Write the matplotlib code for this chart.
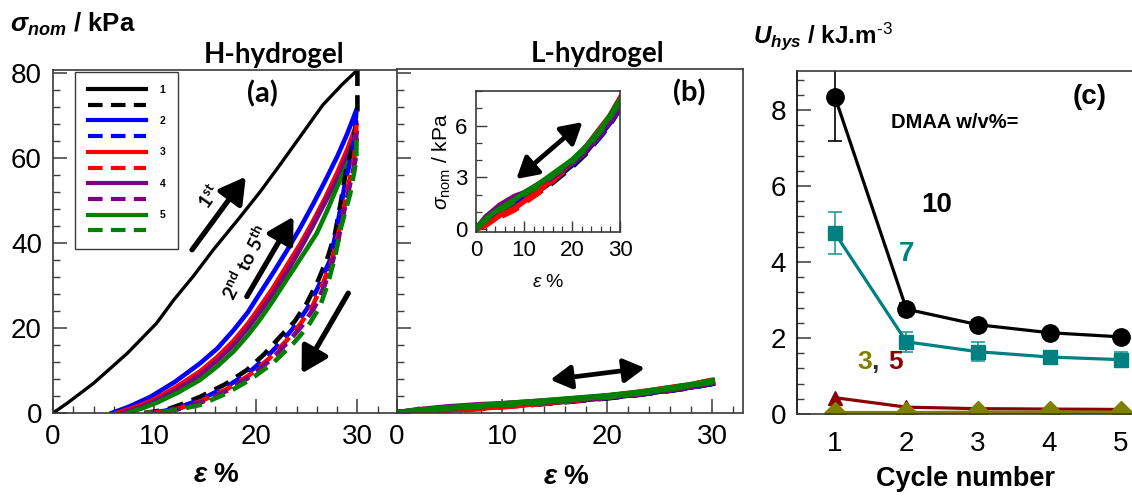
import numpy as np
import matplotlib
matplotlib.use("Agg")
import matplotlib.pyplot as plt
from matplotlib.lines import Line2D
from matplotlib.ticker import MultipleLocator

plt.rcParams['font.family'] = 'Liberation Sans'
plt.rcParams['mathtext.fontset'] = 'custom'
plt.rcParams['mathtext.rm'] = 'Liberation Sans'
plt.rcParams['mathtext.it'] = 'Liberation Sans:italic'
plt.rcParams['mathtext.bf'] = 'Liberation Sans:bold:italic'
plt.rcParams['mathtext.sf'] = 'Lato:bold'

# ---------------- data ----------------
cycle_colors = ['black', 'blue', 'red', 'purple', 'green']

# (a) H-hydrogel, loading (solid) and unloading (dashed) for cycles 1-5
h1_up_x = [0, 1.4, 4.0, 7.3, 10.2, 11.9, 13.8, 15.8, 18.4, 20.4, 22.4, 24.5, 26.6, 28.5, 30.0]
h1_up_y = [0, 2.3, 7.0, 14.0, 21.1, 26.6, 32.1, 38.4, 46.0, 52.0, 58.5, 65.5, 72.5, 77.3, 80.7]
h1_dn_x = [30.0, 30.0, 29.6, 28.9, 28.4, 27.8, 27.1, 26.1, 25.0, 23.8, 22.4, 20.8, 19.1, 17.0, 14.5, 12.5, 11.2, 9.0]
h1_dn_y = [80.7, 71.0, 63.5, 57.2, 50.1, 42.3, 36.8, 31.0, 25.8, 21.5, 18.0, 13.8, 10.1, 6.8, 3.8, 1.9, 0.8, 0.0]

h2_up_x = [5.8, 7.5, 9.6, 12.0, 14.5, 16.2, 17.8, 19.2, 20.4, 21.7, 23.0, 24.3, 25.6, 26.8, 28.0, 29.0, 29.9]
h2_up_y = [0, 1.5, 3.8, 7.3, 11.7, 15.2, 19.5, 23.7, 28.2, 33.0, 38.0, 43.3, 49.0, 54.5, 60.3, 65.7, 71.3]
h2_dn_x = [29.9, 29.6, 28.9, 28.4, 27.8, 27.3, 26.3, 25.3, 24.1, 22.8, 21.1, 19.3, 17.1, 14.6, 12.6, 11.0, 9.3]
h2_dn_y = [71.3, 62.0, 55.5, 49.0, 41.5, 36.0, 30.5, 25.5, 21.2, 17.5, 13.3, 9.5, 6.2, 3.2, 1.5, 0.5, 0]

h3_up_x = [6.3, 8.0, 9.8, 12.0, 14.5, 16.2, 17.8, 19.2, 20.4, 21.7, 23.0, 24.3, 25.6, 26.8, 28.0, 29.0, 29.9]
h3_up_y = [0, 1.3, 3.0, 5.9, 9.8, 13.2, 17.0, 21.0, 25.0, 29.5, 34.5, 39.5, 45.0, 50.5, 56.5, 62.0, 67.8]
h3_dn_x = [29.9, 29.7, 29.1, 28.6, 28.0, 27.5, 26.6, 25.6, 24.4, 23.0, 21.3, 19.4, 17.2, 14.6, 12.6, 11.0, 9.3]
h3_dn_y = [67.8, 60.0, 53.5, 47.0, 41.0, 36.0, 30.5, 25.3, 21.0, 17.0, 12.8, 9.0, 5.7, 2.8, 1.2, 0.4, 0]

h4_up_x = [6.8, 8.4, 10.0, 12.2, 14.5, 16.2, 17.8, 19.2, 20.4, 21.7, 23.0, 24.3, 25.6, 26.8, 28.0, 29.0, 29.9]
h4_up_y = [0, 1.2, 2.8, 5.4, 9.0, 12.4, 16.0, 20.0, 23.8, 28.2, 33.0, 38.3, 44.0, 49.5, 55.0, 60.5, 66.0]
h4_dn_x = [29.9, 29.8, 29.2, 28.6, 28.1, 27.6, 26.8, 25.8, 24.6, 23.2, 21.4, 19.4, 17.2, 14.6, 12.6, 11.0, 9.3]
h4_dn_y = [66.0, 59.5, 53.0, 46.5, 40.5, 36.0, 30.2, 25.0, 20.7, 16.8, 12.4, 8.5, 5.3, 2.5, 1.0, 0.3, 0]

h5_up_x = [7.3, 8.8, 10.3, 12.3, 14.5, 16.2, 17.8, 19.2, 20.4, 21.7, 23.0, 24.3, 26.0, 27.0, 28.0, 29.0, 29.9]
h5_up_y = [0, 1.1, 2.5, 4.8, 7.8, 11.0, 14.5, 18.3, 22.0, 26.5, 31.3, 36.0, 42.3, 47.5, 53.2, 58.5, 64.2]
h5_dn_x = [29.9, 29.9, 29.3, 28.4, 27.8, 27.1, 26.3, 25.1, 23.7, 21.7, 19.4, 17.0, 14.5, 12.4, 10.5, 9.0]
h5_dn_y = [64.2, 59.5, 51.7, 43.8, 36.8, 30.5, 25.0, 20.3, 16.4, 11.8, 7.8, 4.5, 1.9, 0.8, 0.2, 0]

# (b) L-hydrogel, same strain points for every curve
l_strain = [0, 2, 5, 8, 10, 13, 16, 20, 23, 26, 28, 30]
l1_up = [0, 0.4, 0.9, 1.4, 1.7, 2.2, 2.8, 3.7, 4.5, 5.5, 6.2, 7.0]
l1_dn = [0, 0.3, 0.8, 1.3, 1.6, 2.1, 2.7, 3.6, 4.4, 5.4, 6.1, 7.0]
l2_up = [0, 0.5, 1.0, 1.5, 1.8, 2.3, 2.9, 3.8, 4.6, 5.5, 6.2, 7.1]
l2_dn = [0, 0.4, 0.9, 1.4, 1.7, 2.2, 2.8, 3.7, 4.5, 5.4, 6.1, 7.1]
l3_up = [0, 0.2, 0.8, 1.2, 1.6, 2.2, 2.9, 3.9, 4.8, 5.9, 6.6, 7.6]
l3_dn = [0, 0.3, 0.7, 1.1, 1.5, 2.1, 2.8, 3.8, 4.7, 5.8, 6.6, 7.6]
l4_up = [0, 0.7, 1.4, 1.9, 2.1, 2.6, 3.1, 3.9, 4.6, 5.6, 6.3, 7.2]
l4_dn = [0, 0.6, 1.3, 1.8, 2.0, 2.5, 3.0, 3.8, 4.5, 5.5, 6.2, 7.2]
l5_up = [0, 0.6, 1.2, 1.7, 2.1, 2.6, 3.2, 4.0, 4.8, 5.8, 6.6, 7.5]
l5_dn = [0, 0.5, 1.1, 1.6, 2.0, 2.5, 3.1, 3.9, 4.7, 5.7, 6.5, 7.4]

# (c) hysteresis energy vs cycle number
cycles = [1, 2, 3, 4, 5]
u10 = [8.35, 2.76, 2.35, 2.14, 2.03]
u10_err = [1.15, 0.15, 0.12, 0.08, 0.06]
u7 = [4.76, 1.90, 1.64, 1.50, 1.43]
u7_err = [0.55, 0.27, 0.25, 0.17, 0.20]
u5 = [0.43, 0.18, 0.14, 0.13, 0.12]
u3 = [0.03, 0.03, 0.04, 0.04, 0.04]

# ---------------- figure ----------------
W, H = 1132, 497
fig = plt.figure(figsize=(W / 100, H / 100), dpi=100)


def box(x0, y0, x1, y1):
    # pixel box (top-left origin) -> figure fraction rect
    return [x0 / W, 1 - y1 / H, (x1 - x0) / W, (y1 - y0) / H]


def fpt(x, y):
    return x / W, 1 - y / H


frame_col = '#3a3a3a'
dash = (0, (3.5, 2.0))

ax_a = fig.add_axes(box(53, 70, 398, 413))
ax_b = fig.add_axes(box(397, 69, 743, 413))
ax_c = fig.add_axes(box(797, 71, 1159, 414))
ax_in = fig.add_axes(box(476, 91, 620, 232))

# panel (a)
h_up = [(h1_up_x, h1_up_y), (h2_up_x, h2_up_y), (h3_up_x, h3_up_y), (h4_up_x, h4_up_y), (h5_up_x, h5_up_y)]
h_dn = [(h1_dn_x, h1_dn_y), (h2_dn_x, h2_dn_y), (h3_dn_x, h3_dn_y), (h4_dn_x, h4_dn_y), (h5_dn_x, h5_dn_y)]
for i, col in enumerate(cycle_colors):
    lw = 2.4 if i == 0 else 3.3
    ax_a.plot(*h_up[i], color=col, lw=lw, solid_joinstyle='round')
for i, col in enumerate(cycle_colors):
    ax_a.plot(*h_dn[i], color=col, lw=3.3, ls=dash)

ax_a.set_xlim(0, 34.0)
ax_a.set_ylim(0, 80.7)

handles, labels = [], []
for i, col in enumerate(cycle_colors):
    handles.append(Line2D([], [], color=col, lw=3))
    labels.append(str(i + 1))
    handles.append(Line2D([], [], color=col, lw=3, ls=dash))
    labels.append('')
leg = ax_a.legend(handles, labels, loc='upper left', bbox_to_anchor=(0.064, 0.994),
                  borderaxespad=0, frameon=True, fancybox=False, framealpha=1,
                  edgecolor=frame_col, prop={'family': 'Liberation Sans', 'weight': 'bold', 'size': 7.5},
                  handlelength=5.6, handletextpad=1.3, borderpad=1.2, labelspacing=0.55)
leg.get_frame().set_linewidth(1.0)

arrow = dict(arrowstyle='-|>,head_length=0.7,head_width=0.4', lw=3.8, color='k',
             mutation_scale=22, shrinkA=0, shrinkB=0)
ax_a.annotate('', xy=(19.0, 55.6), xytext=(13.7, 38.4), arrowprops=arrow)
ax_a.annotate('', xy=(23.7, 46.2), xytext=(19.1, 27.4), arrowprops=arrow)
ax_a.annotate('', xy=(24.5, 9.3), xytext=(29.1, 28.2), arrowprops=arrow)
ax_a.text(15.4, 50.8, r'1$^{\mathsf{st}}$', family='Lato', weight='bold', fontsize=14,
          rotation=55, ha='center', va='center')
ax_a.text(19.0, 35.5, r'2$^{\mathsf{nd}}$ to 5$^{\mathsf{th}}$', family='Lato', weight='bold',
          fontsize=14, rotation=63, ha='center', va='center')

# panel (b) and inset
l_up = [l1_up, l2_up, l3_up, l4_up, l5_up]
l_dn = [l1_dn, l2_dn, l3_dn, l4_dn, l5_dn]
for ax, lw in [(ax_b, 4.4), (ax_in, 3.8)]:
    for i, col in enumerate(cycle_colors):
        ax.plot(l_strain, l_up[i], color=col, lw=lw)
        ax.plot(l_strain, l_dn[i], color=col, lw=lw, ls=dash)

ax_b.set_xlim(0, 32.95)
ax_b.set_ylim(0, 80.9)
ax_in.set_xlim(0, 30)
ax_in.set_ylim(-0.17, 8.0)

darrow = dict(arrowstyle='<|-|>,head_length=0.7,head_width=0.4', lw=3.4, color='k',
              mutation_scale=18, shrinkA=0, shrinkB=0)
ax_b.annotate('', xy=(23.6, 10.6), xytext=(14.6, 7.8), arrowprops=darrow)
ax_in.annotate('', xy=(22.2, 6.2), xytext=(8.4, 2.9), arrowprops=darrow)

# panel (c)
ax_c.errorbar(cycles, u10, yerr=u10_err, color='black', lw=2.3, marker='o', ms=12.5,
              elinewidth=1.2, capsize=5, capthick=1.2)
ax_c.errorbar(cycles, u7, yerr=u7_err, color='#008080', lw=2.3, marker='s', ms=10.5,
              elinewidth=1.2, capsize=5, capthick=1.2, ecolor='#2a9a9a')
ax_c.plot(cycles, u5, color='#8b0000', lw=2.3, marker='^', ms=10)
ax_c.plot(cycles, u3, color='#808000', lw=2.8, marker='D', ms=11)
ax_c.set_xlim(0.47, 5.53)
ax_c.set_ylim(0, 9.03)

# ---------------- axes styling ----------------
for ax in (ax_a, ax_b, ax_c, ax_in):
    for s in ax.spines.values():
        s.set_color(frame_col)
        s.set_linewidth(1.2)

for ax in (ax_a, ax_b):
    ax.xaxis.set_major_locator(MultipleLocator(10))
    ax.xaxis.set_minor_locator(MultipleLocator(2))
    ax.yaxis.set_major_locator(MultipleLocator(20))
    ax.yaxis.set_minor_locator(MultipleLocator(4))
    ax.tick_params(which='major', direction='in', length=10, width=1.1, color=frame_col,
                   labelsize=20, pad=8)
    ax.tick_params(which='minor', direction='in', length=5, width=1.0, color=frame_col)
ax_b.tick_params(axis='y', which='both', labelleft=False)

ax_in.xaxis.set_major_locator(MultipleLocator(10))
ax_in.xaxis.set_minor_locator(MultipleLocator(2))
ax_in.yaxis.set_major_locator(MultipleLocator(3))
ax_in.yaxis.set_minor_locator(MultipleLocator(1))
ax_in.tick_params(which='major', direction='in', length=8, width=1.0, color=frame_col,
                  labelsize=16, pad=6)
ax_in.tick_params(which='minor', direction='in', length=4, width=0.9, color=frame_col)
ax_in.set_ylabel(r'$\sigma_{\rm nom}$ / kPa', fontsize=15, labelpad=2)
ax_in.set_xlabel(r'$\varepsilon$ %', fontsize=14, labelpad=9)

ax_c.set_xticks(cycles)
ax_c.yaxis.set_major_locator(MultipleLocator(2))
ax_c.yaxis.set_minor_locator(MultipleLocator(0.4))
ax_c.tick_params(axis='x', length=0, labelsize=20, pad=12)
ax_c.tick_params(axis='y', which='major', direction='in', length=10, width=1.1, color=frame_col,
                 labelsize=20, pad=8)
ax_c.tick_params(axis='y', which='minor', direction='in', length=5, width=1.0, color=frame_col)
ax_c.spines['left'].set_color('black')

# ---------------- texts ----------------
fig.text(*fpt(10, 32), r'$\mathbf{\sigma_{nom}}$ / kPa', fontsize=18.5, weight='bold',
         ha='left', va='baseline')
fig.text(*fpt(753, 43), r'$\mathbf{U_{hys}}$ / kJ.m$^{\text{-3}}$', fontsize=17.5, weight='bold',
         ha='left', va='baseline')
fig.text(*fpt(274, 63), 'H-hydrogel', family='Lato', weight='bold', fontsize=20,
         ha='center', va='baseline')
fig.text(*fpt(598, 62), 'L-hydrogel', family='Lato', weight='bold', fontsize=20,
         ha='center', va='baseline')
fig.text(*fpt(262, 94), '(a)', family='Lato', weight='bold', fontsize=21, ha='center', va='center')
fig.text(*fpt(689, 93), '(b)', family='Lato', weight='bold', fontsize=21, ha='center', va='center')
fig.text(*fpt(1090, 97), '(c)', weight='bold', fontsize=20, ha='center', va='center')

fig.text(*fpt(216, 475), r'$\mathbf{\varepsilon}$ %', fontsize=20, weight='bold',
         ha='center', va='center')
fig.text(*fpt(566, 477), r'$\mathbf{\varepsilon}$ %', fontsize=20, weight='bold',
         ha='center', va='center')
fig.text(*fpt(965, 479), 'Cycle number', fontsize=19.5, weight='bold', ha='center', va='center')

fig.text(*fpt(955, 122), 'DMAA w/v%=', fontsize=14.5, weight='bold', ha='center', va='center')
fig.text(*fpt(937, 205), '10', fontsize=20, weight='bold', ha='center', va='center')
fig.text(*fpt(907, 254), '7', fontsize=20, weight='bold', color='#008080', ha='center', va='center')
fig.text(*fpt(857, 362), '3', fontsize=19, weight='bold', color='#808000', ha='left', va='center')
fig.text(*fpt(871, 362), ',', fontsize=19, weight='bold', color='#303030', ha='left', va='center')
fig.text(*fpt(888, 362), '5', fontsize=19, weight='bold', color='#8b0000', ha='left', va='center')

fig.savefig('out.png', dpi=100)
